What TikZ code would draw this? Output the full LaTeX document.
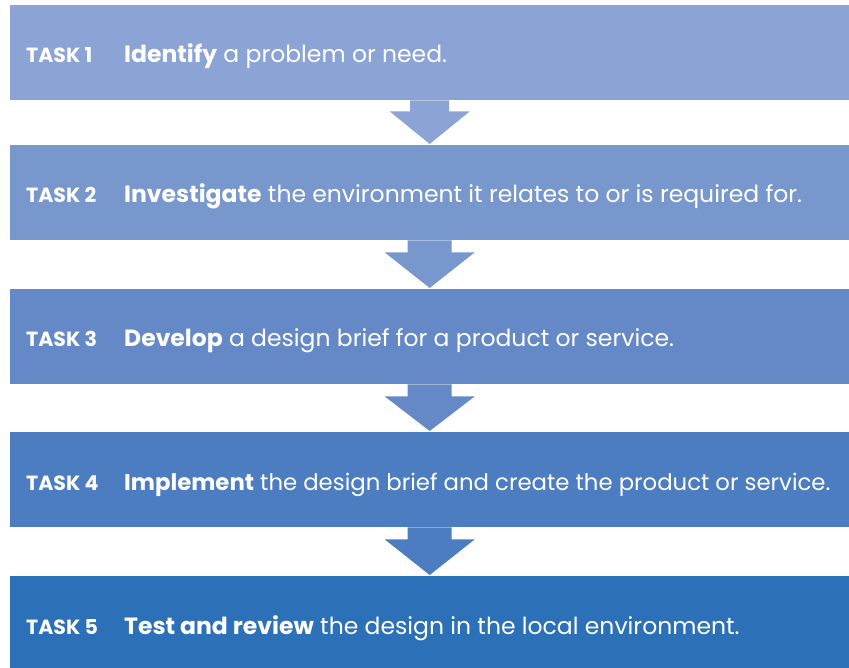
\documentclass[tikz,border=0pt]{standalone}
\usepackage{fontspec}
\setmainfont{Poppins}
\usetikzlibrary{calc}
\definecolor{c1}{HTML}{8BA4D5}
\definecolor{c2}{HTML}{7897CD}
\definecolor{c3}{HTML}{6589C7}
\definecolor{c4}{HTML}{4C7DC0}
\definecolor{c5}{HTML}{2C70B8}
\tikzset{
  bar/.style={draw=none, minimum width=839pt, minimum height=95pt, anchor=north west, inner sep=0pt},
  tasklbl/.style={anchor=base west, inner sep=0pt, text=white, font=\fontsize{20.5}{23}\selectfont\bfseries},
  tasktxt/.style={anchor=base west, inner sep=0pt, text=white, font=\fontsize{23.5}{27}\selectfont},
}
\begin{document}
\begin{tikzpicture}[x=1pt,y=-1pt]
\useasboundingbox (0,0) rectangle (849,668);
\node[bar, fill=c1] (b1) at (10,5) {};
\node[bar, fill=c2] (b2) at (10,145) {};
\node[bar, fill=c3] (b3) at (10,289) {};
\node[bar, fill=c4] (b4) at (10,432) {};
\node[bar, fill=c5, minimum height=96pt] (b5) at (10,576) {};
% arrows
\fill[c1] ([xshift=-19.5pt]b1.south) -- ++(0,11) -- ++(-20.5,0) -- ([yshift=1pt]b2.north) -- ([xshift=40pt,yshift=-11pt]b1.south) -- ++(-20.5,0) -- ([xshift=19.5pt]b1.south) -- cycle;
\fill[c2] ([xshift=-22pt]b2.south) -- ++(0,12) -- ++(-23,0) -- ([yshift=1pt]b3.north) -- ([xshift=45pt,yshift=-12pt]b2.south) -- ++(-23,0) -- ([xshift=22pt]b2.south) -- cycle;
\fill[c3] ([xshift=-22pt]b3.south) -- ++(0,12) -- ++(-23,0) -- ([yshift=1pt]b4.north) -- ([xshift=45pt,yshift=-12pt]b3.south) -- ++(-23,0) -- ([xshift=22pt]b3.south) -- cycle;
\fill[c4] ([xshift=-22pt]b4.south) -- ++(0,12) -- ++(-23,0) -- ([yshift=1pt]b5.north) -- ([xshift=45pt,yshift=-12pt]b4.south) -- ++(-23,0) -- ([xshift=22pt]b4.south) -- cycle;
% texts
\node[tasklbl] (l1) at (26,63) {TASK 1};
\node[tasktxt] (t1) at (124,63) {\textbf{Identify} a problem or need.};
\node[tasklbl] (l2) at (26,203) {TASK 2};
\node[tasktxt] (t2) at (124,203) {\textbf{Investigate} the environment it relates to or is required for.};
\node[tasklbl] (l3) at (26,347) {TASK 3};
\node[tasktxt] (t3) at (124,347) {\textbf{Develop} a design brief for a product or service.};
\node[tasklbl] (l4) at (26,490) {TASK 4};
\node[tasktxt, font=\fontsize{22.8}{27}\selectfont] (t4) at (124,490) {\textbf{Implement} the design brief and create the product or service.};
\node[tasklbl] (l5) at (26,634) {TASK 5};
\node[tasktxt] (t5) at (124,634) {\textbf{Test and review} the design in the local environment.};
\end{tikzpicture}
\end{document}
